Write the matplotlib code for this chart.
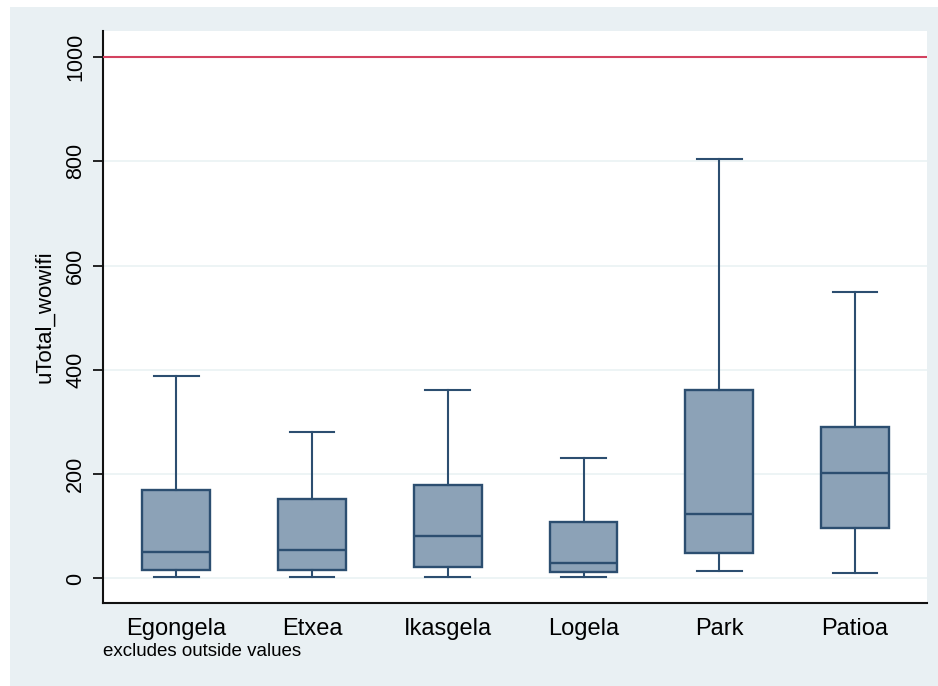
import matplotlib
matplotlib.use("Agg")
import matplotlib.pyplot as plt
from matplotlib.patches import Rectangle

plt.rcParams["font.family"] = ["Liberation Sans", "DejaVu Sans"]

# five-number summaries per location (outside values excluded)
locations = ["Egongela", "Etxea", "Ikasgela", "Logela", "Park", "Patioa"]
whisker_low = [3, 3, 3, 3, 14, 10]
q1 = [17, 16, 23, 13, 49, 97]
median = [51, 54, 82, 30, 123, 202]
q3 = [170, 153, 180, 109, 362, 291]
whisker_high = [388, 280, 361, 231, 804, 550]
ref_line = 1000
yticks = [0, 200, 400, 600, 800, 1000]

stats = []
for i, name in enumerate(locations):
    stats.append({
        "label": name,
        "whislo": whisker_low[i],
        "q1": q1[i],
        "med": median[i],
        "q3": q3[i],
        "whishi": whisker_high[i],
        "fliers": [],
    })

W, H = 938, 686
fig = plt.figure(figsize=(W / 100, H / 100), dpi=100, facecolor="white")

# Stata-like graph region, kept behind the axes
region = Rectangle((10 / W, 0), 1 - 10 / W, 1 - 7 / H,
                   transform=fig.transFigure, facecolor="#E9F0F3",
                   edgecolor="none", zorder=-10)
fig.add_artist(region)

ax = fig.add_axes([103 / W, 1 - 603 / H, (927 - 103) / W, (603 - 31) / H])
ax.set_zorder(1)
ax.set_facecolor("white")

navy = "#2C4E70"
ax.bxp(stats, positions=range(1, len(locations) + 1), widths=0.5,
       patch_artist=True, showfliers=False,
       boxprops=dict(facecolor="#8CA2B7", edgecolor=navy, linewidth=1.7),
       medianprops=dict(color=navy, linewidth=1.7),
       whiskerprops=dict(color=navy, linewidth=1.5),
       capprops=dict(color=navy, linewidth=1.5),
       capwidths=0.33)

ax.axhline(ref_line, color="#D3425F", linewidth=1.5, zorder=3)

ax.set_xlim(0.46, 6.53)
ax.set_ylim(-47, 1050)
ax.set_yticks(yticks)
ax.set_yticklabels([str(v) for v in yticks], rotation=90, va="center",
                   fontsize=15.5)
ax.tick_params(axis="y", length=7, width=1.2, pad=5)
ax.tick_params(axis="x", length=0, pad=11, labelsize=17)
ax.yaxis.grid(True, color="#EAF2F3", linewidth=1.2)
ax.set_axisbelow(True)

for side in ["top", "right"]:
    ax.spines[side].set_visible(False)
for side in ["left", "bottom"]:
    ax.spines[side].set_linewidth(1.5)
    ax.spines[side].set_color("#111111")

ax.set_ylabel("uTotal_wowifi", fontsize=16, labelpad=7)

fig.text(103 / W, 1 - 652 / H, "excludes outside values", fontsize=13.5,
         va="center", ha="left")

fig.savefig("out.png", dpi=100, facecolor="white")
